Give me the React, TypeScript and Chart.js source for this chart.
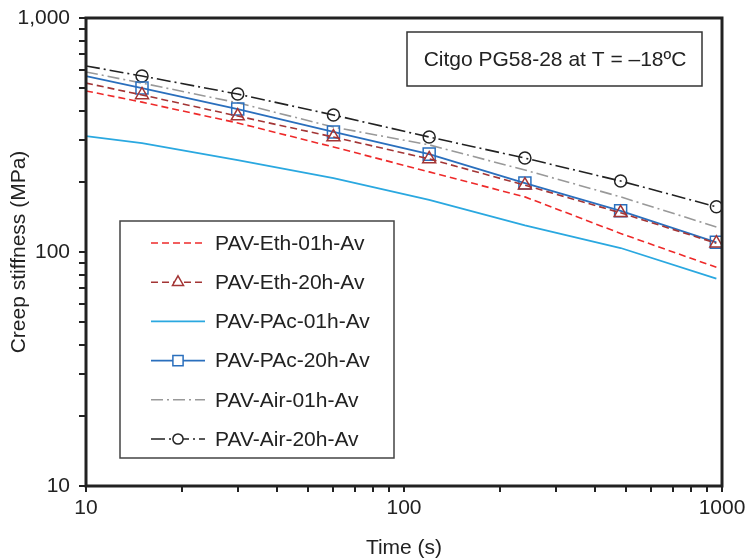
import React, { useEffect, useRef } from 'react';
import { Chart, registerables } from 'chart.js';

Chart.register(...registerables);

// ---- data ----
const times = [10, 15, 30, 60, 120, 240, 480, 960];
const ethEth01 = [488, 437, 356, 281, 220, 172, 120, 86];
const ethEth20 = [527, 469, 381, 310, 250, 193, 147, 109];
const pac01 = [313, 292, 247, 207, 167, 130, 104, 77];
const pac20 = [565, 502, 408, 326, 262, 197, 150, 110];
const air01 = [588, 527, 434, 342, 287, 224, 172, 128];
const air20 = [624, 565, 473, 385, 310, 252, 201, 156];

const seriesLabels = [
  'PAV-Eth-01h-Av',
  'PAV-Eth-20h-Av',
  'PAV-PAc-01h-Av',
  'PAV-PAc-20h-Av',
  'PAV-Air-01h-Av',
  'PAV-Air-20h-Av',
];

const logTicks = [10, 20, 30, 40, 50, 60, 70, 80, 90, 100, 200, 300, 400, 500, 600, 700, 800, 900, 1000];
const xTickLabels: Record<number, string> = { 10: '10', 100: '100', 1000: '1000' };
const yTickLabels: Record<number, string> = { 10: '10', 100: '100', 1000: '1,000' };

const noteText = 'Citgo PG58-28 at T = \u201318\u00baC';
const xTitle = 'Time (s)';
const yTitle = 'Creep stiffness (MPa)';

const FONT = "'Liberation Sans', Arial, Helvetica, sans-serif";
const TEXT = '#222222';

type Style = {
  color: string;
  dash: number[];
  width: number;
  marker: false | 'triangle' | 'rect' | 'circle';
  radius: number;
};

const styles: Style[] = [
  { color: '#ee2a2a', dash: [7, 4], width: 1.6, marker: false, radius: 0 },
  { color: '#a33535', dash: [7, 4], width: 1.6, marker: 'triangle', radius: 7.5 },
  { color: '#2aa8e0', dash: [], width: 1.8, marker: false, radius: 0 },
  { color: '#2a6fbd', dash: [], width: 1.8, marker: 'rect', radius: 8.5 },
  { color: '#999999', dash: [12, 4, 2, 4], width: 1.6, marker: false, radius: 0 },
  { color: '#222222', dash: [14, 4, 2, 4], width: 1.6, marker: 'circle', radius: 6 },
];

const seriesValues = [ethEth01, ethEth20, pac01, pac20, air01, air20];

function drawMarker(ctx: CanvasRenderingContext2D, kind: Style['marker'], x: number, y: number, r: number) {
  ctx.beginPath();
  if (kind === 'triangle') {
    let rad = 0;
    ctx.moveTo(x + Math.sin(rad) * r, y - Math.cos(rad) * r);
    rad += (2 * Math.PI) / 3;
    ctx.lineTo(x + Math.sin(rad) * r, y - Math.cos(rad) * r);
    rad += (2 * Math.PI) / 3;
    ctx.lineTo(x + Math.sin(rad) * r, y - Math.cos(rad) * r);
    ctx.closePath();
  } else if (kind === 'rect') {
    const s = Math.SQRT1_2 * r;
    ctx.rect(x - s, y - s, 2 * s, 2 * s);
  } else if (kind === 'circle') {
    ctx.arc(x, y, r, 0, Math.PI * 2);
  }
  ctx.fillStyle = '#ffffff';
  ctx.fill();
  ctx.stroke();
}

const decorPlugin = {
  id: 'decor',
  afterDatasetsDraw(chart: any) {
    const ctx: CanvasRenderingContext2D = chart.ctx;
    const area = chart.chartArea;
    ctx.save();

    // note box
    ctx.strokeStyle = '#333333';
    ctx.lineWidth = 1.5;
    ctx.fillStyle = '#ffffff';
    ctx.beginPath();
    ctx.rect(407, 32, 295, 54);
    ctx.fill();
    ctx.stroke();
    ctx.fillStyle = TEXT;
    ctx.font = `21px ${FONT}`;
    ctx.textAlign = 'center';
    ctx.textBaseline = 'middle';
    ctx.fillText(noteText, 555, 60);

    // legend box
    ctx.strokeStyle = '#444444';
    ctx.lineWidth = 1.5;
    ctx.fillStyle = '#ffffff';
    ctx.beginPath();
    ctx.rect(120, 221, 274, 237);
    ctx.fill();
    ctx.stroke();

    seriesLabels.forEach((label, i) => {
      const st = styles[i];
      const y = 243 + i * 39.2;
      ctx.save();
      ctx.strokeStyle = st.color;
      ctx.lineWidth = st.width;
      ctx.setLineDash(st.dash);
      ctx.beginPath();
      ctx.moveTo(151, y);
      ctx.lineTo(205, y);
      ctx.stroke();
      ctx.setLineDash([]);
      if (st.marker) {
        ctx.lineWidth = 1.5;
        drawMarker(ctx, st.marker, 178, y, st.radius * 0.85);
      }
      ctx.restore();
      ctx.fillStyle = TEXT;
      ctx.font = `21px ${FONT}`;
      ctx.textAlign = 'left';
      ctx.textBaseline = 'middle';
      ctx.fillText(label, 215, y + 1);
    });

    // frame
    ctx.strokeStyle = '#222222';
    ctx.lineWidth = 3;
    ctx.setLineDash([]);
    ctx.strokeRect(area.left, area.top, area.right - area.left, area.bottom - area.top);
    ctx.restore();
  },
};

export default function App() {
  const canvasRef = useRef<HTMLCanvasElement | null>(null);

  useEffect(() => {
    const canvas = canvasRef.current;
    if (!canvas) return;

    const datasets = seriesLabels.map((label, i) => {
      const st = styles[i];
      return {
        label,
        data: times.map((t, j) => ({ x: t, y: seriesValues[i][j] })),
        borderColor: st.color,
        backgroundColor: '#ffffff',
        borderWidth: st.width,
        borderDash: st.dash,
        pointStyle: st.marker || 'circle',
        pointRadius: times.map((_, j) => (st.marker && j > 0 ? st.radius : 0)),
        pointBorderWidth: 1.5,
        pointBorderColor: st.color,
        pointBackgroundColor: 'rgba(255,255,255,0)',
        tension: 0,
        fill: false,
      };
    });

    const chart = new Chart(canvas, {
      type: 'line',
      data: { datasets },
      plugins: [decorPlugin],
      options: {
        responsive: false,
        animation: false,
        layout: { padding: { top: 18, right: 23, bottom: 0, left: 0 } },
        plugins: { legend: { display: false }, tooltip: { enabled: false } },
        scales: {
          x: {
            type: 'logarithmic',
            min: 10,
            max: 1000,
            position: 'bottom',
            afterBuildTicks: (scale: any) => {
              scale.ticks = logTicks.map((v) => ({ value: v }));
            },
            afterFit: (scale: any) => {
              scale.height = 73;
              scale.paddingLeft = 0;
              scale.paddingRight = 0;
              scale.paddingTop = 0;
              scale.paddingBottom = 0;
            },
            grid: {
              display: true,
              drawOnChartArea: false,
              drawTicks: true,
              tickLength: 6,
              color: '#222222',
              lineWidth: 2,
            },
            border: { display: false },
            ticks: {
              autoSkip: false,
              maxRotation: 0,
              padding: 4,
              color: TEXT,
              font: { family: FONT, size: 21 },
              callback: (v: any) => xTickLabels[Number(v)] ?? '',
            },
            title: {
              display: true,
              text: xTitle,
              color: TEXT,
              font: { family: FONT, size: 21, lineHeight: 1 },
              padding: { top: 0, bottom: 0 },
            },
          },
          y: {
            type: 'logarithmic',
            min: 10,
            max: 1000,
            position: 'left',
            afterBuildTicks: (scale: any) => {
              scale.ticks = logTicks.map((v) => ({ value: v }));
            },
            afterFit: (scale: any) => {
              scale.width = 86;
              scale.paddingLeft = 0;
              scale.paddingRight = 0;
              scale.paddingTop = 0;
              scale.paddingBottom = 0;
            },
            grid: {
              display: true,
              drawOnChartArea: false,
              drawTicks: true,
              tickLength: 7,
              color: '#222222',
              lineWidth: 2,
            },
            border: { display: false },
            ticks: {
              autoSkip: false,
              padding: 9,
              color: TEXT,
              font: { family: FONT, size: 21 },
              callback: (v: any) => yTickLabels[Number(v)] ?? '',
            },
            title: {
              display: true,
              text: yTitle,
              color: TEXT,
              font: { family: FONT, size: 21, lineHeight: 1.2 },
              padding: { top: 7, bottom: 0 },
            },
          },
        },
      },
    } as any);

    return () => chart.destroy();
  }, []);

  return (
    <div style={{ position: 'fixed', left: 0, top: 0, width: 745, height: 559, background: '#ffffff' }}>
      <canvas ref={canvasRef} width={745} height={559} style={{ width: 745, height: 559, display: 'block' }} />
    </div>
  );
}
